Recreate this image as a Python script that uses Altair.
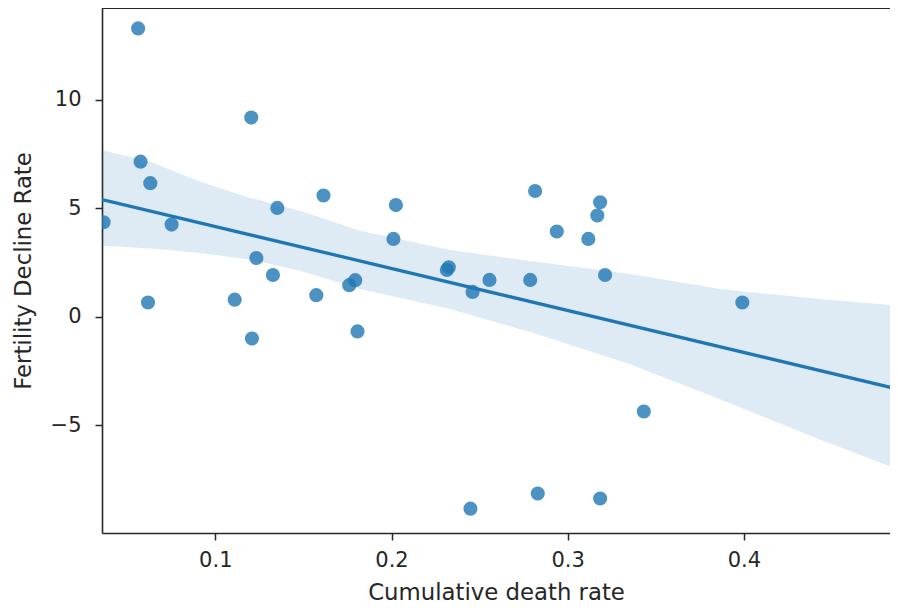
import altair as alt
import numpy as np
import pandas as pd

# Cumulative death rate (x) and Fertility Decline Rate (y)
death_rate = [0.0562, 0.1204, 0.0576, 0.0631, 0.0366, 0.0752, 0.1352, 0.1614,
              0.2025, 0.2011, 0.1233, 0.1327, 0.1760, 0.1794, 0.2314, 0.2325,
              0.2460, 0.2556, 0.2787, 0.2815, 0.2938, 0.3117, 0.3184, 0.3168,
              0.3212, 0.3991, 0.3432, 0.2448, 0.2830, 0.3184, 0.0618, 0.1110,
              0.1208, 0.1573, 0.1807]
fertility_decline = [13.29, 9.18, 7.15, 6.16, 4.36, 4.25, 5.02, 5.59,
                     5.15, 3.59, 2.71, 1.93, 1.46, 1.69, 2.16, 2.28,
                     1.15, 1.70, 1.70, 5.80, 3.93, 3.59, 5.28, 4.67,
                     1.93, 0.66, -4.36, -8.84, -8.14, -8.37, 0.66, 0.79,
                     -1.00, 1.00, -0.67]

# confidence band edges of the fit
band_x = [0.0359, 0.0631, 0.0915, 0.1199, 0.1482, 0.1822, 0.2333, 0.2787,
          0.3354, 0.3864, 0.4431, 0.4874]
band_hi = [7.67, 7.15, 6.22, 5.48, 4.88, 3.97, 3.08, 2.57, 1.97, 1.28, 0.82, 0.51]
band_lo = [3.28, 3.15, 2.94, 2.63, 2.12, 1.28, 0.36, -0.70, -2.18, -3.80, -5.65, -7.03]

x_ticks = [0.1, 0.2, 0.3, 0.4]
y_ticks = [-5, 0, 5, 10]
x_domain = [0.0357, 0.4829]
y_domain = [-9.96, 14.23]

df = pd.DataFrame({"x": death_rate, "y": fertility_decline})
band = pd.DataFrame({"x": band_x, "lo": band_lo, "hi": band_hi})

BLUE = "#1f77b4"
TXT = "#262626"
xs = alt.Scale(domain=x_domain, nice=False, zero=False)
ys = alt.Scale(domain=y_domain, nice=False, zero=False)

x_axis = alt.Axis(values=x_ticks, format=".1f", grid=False,
                  domainColor=TXT, domainWidth=1.6,
                  tickSize=7, tickWidth=1.5, tickColor=TXT, labelPadding=9,
                  titlePadding=11, title="Cumulative death rate")
y_axis = alt.Axis(values=y_ticks, format="d", grid=False,
                  domainColor=TXT, domainWidth=1.6,
                  tickSize=7, tickWidth=1.5, tickColor=TXT, labelPadding=14,
                  titlePadding=15, title="Fertility Decline Rate")

area = alt.Chart(band).mark_area(color=BLUE, opacity=0.15, clip=True).encode(
    x=alt.X("x:Q", scale=xs, axis=x_axis),
    y=alt.Y("lo:Q", scale=ys, axis=y_axis),
    y2="hi:Q",
)

line = alt.Chart(df).mark_line(color=BLUE, strokeWidth=3.3, clip=True).encode(
    x=alt.X("x:Q", scale=xs),
    y=alt.Y("y:Q", scale=ys),
).transform_regression("x", "y", extent=[x_domain[0], band_x[-1]])

points = alt.Chart(df).mark_circle(color=BLUE, opacity=0.8, size=200, clip=True).encode(
    x=alt.X("x:Q", scale=xs),
    y=alt.Y("y:Q", scale=ys),
)

top_spine = alt.Chart(df).mark_rule(color=TXT, strokeWidth=1.6).encode(
    y=alt.datum(y_domain[1], scale=ys),
)

chart = alt.layer(area, line, points, top_spine).properties(
    width=788, height=525,
    autosize="none",
    padding={"left": 94, "top": 0, "right": 0, "bottom": 71},
    background="white",
).configure_view(
    stroke=None
).configure_axis(
    labelFont="DejaVu Sans", titleFont="DejaVu Sans",
    labelFontSize=21, titleFontSize=22.8,
    labelColor=TXT, titleColor=TXT, titleFontWeight="normal",
)

chart.save("out.html", embed_options={"renderer": "svg", "actions": False})
